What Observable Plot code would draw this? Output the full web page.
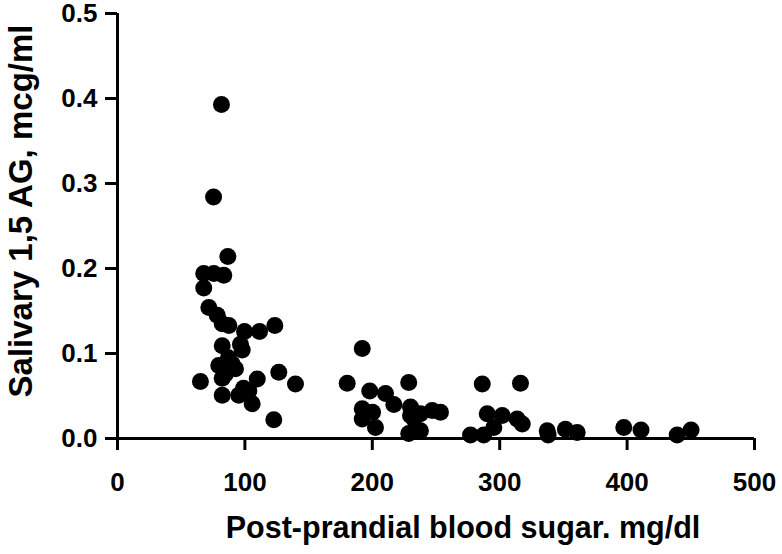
<!DOCTYPE html>
<html>
<head>
<meta charset="utf-8">
<script src="https://cdn.jsdelivr.net/npm/d3@7"></script>
<script src="https://cdn.jsdelivr.net/npm/@observablehq/plot@0.6"></script>
<style>
  html, body { margin: 0; padding: 0; background: #fff; }
  #chart svg { display: block; }
  #chart text { font-family: "Liberation Sans", Arial, sans-serif; font-weight: bold; }
</style>
</head>
<body>
<div id="chart"></div>
<script>
// Post-prandial blood sugar (mg/dl)
const sugar = [
  81.6, 75.4, 86.6, 67.7, 75.6, 83.4, 67.7, 71.7, 78.3, 82.2, 87.4, 99.7, 111.5, 123.5,
  82.2, 96.5, 97.9, 79.5, 90.0, 84.8, 82.2, 65.1, 109.7, 126.6, 139.7, 82.2, 95.2, 103.1,
  105.7, 122.7, 98.9, 92.6, 87.0,
  192.1, 180.3, 198.0, 210.4, 216.9, 192.1, 192.1, 202.5, 228.6, 230.0, 230.0, 237.8,
  247.0, 253.5, 228.6, 237.8, 200.2, 232.6,
  286.3, 316.3, 290.2, 302.0, 313.7, 317.7, 295.4, 277.1, 287.5, 337.3, 338.0, 351.6,
  360.8, 397.4, 410.9, 439.3, 450.2
];
// Salivary 1,5 AG (mcg/ml)
const ag = [
  0.393, 0.284, 0.214, 0.194, 0.194, 0.192, 0.177, 0.154, 0.145, 0.135, 0.133, 0.126, 0.126, 0.133,
  0.109, 0.111, 0.104, 0.086, 0.088, 0.076, 0.071, 0.067, 0.070, 0.078, 0.064, 0.051, 0.051, 0.056,
  0.041, 0.022, 0.059, 0.082, 0.095,
  0.106, 0.065, 0.056, 0.053, 0.040, 0.035, 0.023, 0.013, 0.066, 0.037, 0.027, 0.029,
  0.033, 0.031, 0.006, 0.009, 0.031, 0.023,
  0.064, 0.065, 0.029, 0.027, 0.023, 0.017, 0.013, 0.004, 0.004, 0.009, 0.004, 0.011,
  0.007, 0.013, 0.010, 0.004, 0.010
];
const xTicks = [0, 100, 200, 300, 400, 500];
const yTicks = [0, 0.1, 0.2, 0.3, 0.4, 0.5];
const xTitle = "Post-prandial blood sugar. mg/dl";
const yTitle = "Salivary 1,5 AG, mcg/ml";

const data = sugar.map((s, i) => ({sugar: s, ag: ag[i]}));

const chart = Plot.plot({
  width: 782,
  height: 554,
  marginLeft: 117,
  marginRight: 28,
  marginTop: 13,
  marginBottom: 116,
  style: {background: "#fff", color: "#000", overflow: "visible"},
  x: {domain: [0, 500], axis: null},
  y: {domain: [0, 0.5], axis: null},
  marks: [
    Plot.axisX({ticks: xTicks, tickSize: 12, tickPadding: 22, strokeWidth: 3, fontSize: 26,
                tickFormat: d3.format("d"), label: null}),
    Plot.axisY({ticks: yTicks, tickSize: 12, tickPadding: 8, strokeWidth: 3, fontSize: 26,
                tickFormat: d3.format(".1f"), label: null}),
    Plot.ruleY([0], {stroke: "#000", strokeWidth: 3}),
    Plot.ruleX([0], {stroke: "#000", strokeWidth: 3}),
    Plot.dot(data, {x: "sugar", y: "ag", r: 8.5, fill: "#000", stroke: "none"}),
    Plot.text([xTitle], {frameAnchor: "bottom", text: d => d, dx: 27, dy: 99, fontSize: 30.5, fill: "#000"}),
    Plot.text([yTitle], {frameAnchor: "left", text: d => d, dx: -96, dy: -15, rotate: -90,
                         textAnchor: "middle", fontSize: 33, fill: "#000"})
  ]
});
document.getElementById("chart").appendChild(chart);
</script>
</body>
</html>
